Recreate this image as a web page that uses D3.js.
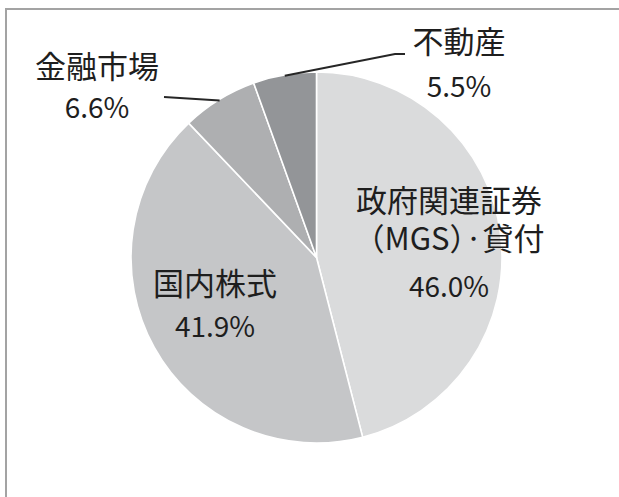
<!DOCTYPE html>
<html><head><meta charset="utf-8">
<script src="https://cdn.jsdelivr.net/npm/d3@7"></script>
<style>html,body{margin:0;padding:0;background:#fff;}svg{display:block;}</style>
</head><body>
<script>
// ---- data ----
const categories = ["政府関連証券（MGS）·貸付", "国内株式", "金融市場", "不動産"];
const labelLines = [["政府関連証券", "（MGS）·貸付"], ["国内株式"], ["金融市場"], ["不動産"]];
const values = [46.0, 41.9, 6.6, 5.5];
const percentLabels = ["46.0%", "41.9%", "6.6%", "5.5%"];

// ---- layout / style ----
const W = 619, H = 497;
const cx = 316.5, cy = 257.5, R = 185.5;
const colors = ["#dadbdc", "#c5c6c8", "#aeafb1", "#939598"];
const labelPos = [
  {x: 449, y: 212, dy: 38, pdy: 47, leader: null},
  {x: 215, y: 295, dy: 0, pdy: 42, leader: null},
  {x: 97,  y: 78,  dy: 0, pdy: 40, leader: [[164, 97]]},
  {x: 459, y: 53,  dy: 0, pdy: 44, leader: [[405, 54], [395, 54]]}
];

const svg = d3.select("body").append("svg").attr("width", W).attr("height", H);

// frame
svg.append("path").attr("d", `M6,${H+5} L6,9 L${W+5},9`)
  .attr("fill", "none").attr("stroke", "#a3a3a3").attr("stroke-width", 2);

const pie = d3.pie().sort(null).value(d => d)(values);
const arc = d3.arc().innerRadius(0).outerRadius(R);
const g = svg.append("g").attr("transform", `translate(${cx},${cy})`);
g.selectAll("path.slice").data(pie).join("path").attr("class", "slice")
  .attr("d", arc).attr("fill", (d, i) => colors[i])
  .attr("stroke", "#ffffff").attr("stroke-width", 1.6).attr("stroke-linejoin", "round");

// leader lines
pie.forEach((d, i) => {
  const lp = labelPos[i];
  if (!lp.leader) return;
  const a = (d.startAngle + d.endAngle) / 2;
  const sx = cx + Math.sin(a) * (R - 1), sy = cy - Math.cos(a) * (R - 1);
  const pts = [[sx, sy]].concat(lp.leader.slice().reverse());
  svg.append("path").attr("d", d3.line()(pts))
    .attr("fill", "none").attr("stroke", "#262626").attr("stroke-width", 2);
});

// labels
const fontCJK = "'Noto Sans CJK JP', 'Noto Sans', sans-serif";
labelLines.forEach((lines, i) => {
  const lp = labelPos[i];
  lines.forEach((t, j) => {
    svg.append("text").attr("x", lp.x).attr("y", lp.y + j * lp.dy)
      .attr("text-anchor", "middle").attr("font-family", fontCJK)
      .attr("font-size", 31).attr("fill", "#1e1e1e").text(t);
  });
  const lastY = lp.y + (lines.length - 1) * lp.dy;
  svg.append("text").attr("x", lp.x).attr("y", lastY + lp.pdy)
    .attr("text-anchor", "middle").attr("font-family", fontCJK)
    .attr("font-size", 28).attr("fill", "#1e1e1e").text(percentLabels[i]);
});
</script>
</body></html>
